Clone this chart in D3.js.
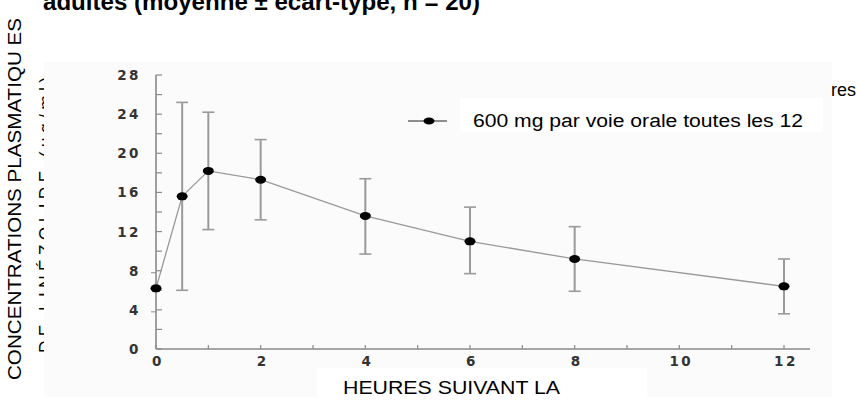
<!DOCTYPE html>
<html><head><meta charset="utf-8">
<script src="https://cdn.jsdelivr.net/npm/d3@7"></script>
<style>body{margin:0;background:#fff}svg{display:block}</style>
</head><body>
<svg id="c" width="857" height="400"></svg>
<script>
const hours = [0, 0.5, 1, 2, 4, 6, 8, 12];
const meanConc = [6.2, 15.6, 18.2, 17.3, 13.6, 11.0, 9.2, 6.4];
const upperSd = [null, 25.2, 24.2, 21.4, 17.4, 14.5, 12.5, 9.2];
const lowerSd = [null, 6.0, 12.2, 13.2, 9.7, 7.7, 5.9, 3.6];
const xTickLabels = [0, 2, 4, 6, 8, 10, 12];
const yTickLabels = [0, 4, 8, 12, 16, 20, 24, 28];
const titleText = "adultes (moyenne ± écart-type, n = 20)";
const yLabel1 = "CONCENTRATIONS PLASMATIQU ES";
const yLabel2 = "DE LINÉZOLIDE (µg/ml)";
const xLabel = "HEURES SUIVANT LA";
const legendText = "600 mg par voie orale toutes les 12";
const legendText2 = "heures";

const svg = d3.select("#c");
const x = d3.scaleLinear().domain([0, 12]).range([156, 784]);
const y = d3.scaleLinear().domain([0, 28]).range([349, 75]);
const sans = "'Liberation Sans', Arial, sans-serif";
const tickFont = "'DejaVu Sans', sans-serif";

// title (cut at top, as in the reference)
svg.append("text").attr("x", 43).attr("y", 10)
  .attr("font-family", sans).attr("font-weight", "bold").attr("font-size", 24)
  .attr("fill", "#000").attr("textLength", 437).attr("lengthAdjust", "spacingAndGlyphs")
  .text(titleText);

// y label lines
svg.append("text").attr("transform", "translate(21,380) rotate(-90)")
  .attr("font-family", sans).attr("font-size", 17.5).attr("fill", "#000")
  .attr("textLength", 362).attr("lengthAdjust", "spacingAndGlyphs").text(yLabel1);
svg.append("text").attr("transform", "translate(52,353) rotate(-90)")
  .attr("font-family", sans).attr("font-size", 17.5).attr("fill", "#000")
  .attr("textLength", 276).attr("lengthAdjust", "spacing").text(yLabel2);
// legend second line
svg.append("text").attr("x", 856).attr("y", 96).attr("text-anchor", "end")
  .attr("font-family", sans).attr("font-size", 18).attr("fill", "#000").text(legendText2);

// image background covering
svg.append("rect").attr("x", 44).attr("y", 62).attr("width", 788).attr("height", 335)
  .attr("fill", "#fbfbfb");

// axes
const axCol = "#8a8a8a";
const g = svg.append("g");
g.append("line").attr("x1", x(0)).attr("x2", x(0)).attr("y1", y(28)).attr("y2", y(0))
  .attr("stroke", axCol).attr("stroke-width", 1.6);
const yMinor = d3.range(0, 29, 2);
g.selectAll(".yt").data(yMinor).enter().append("line")
  .attr("x1", x(0)).attr("x2", x(0) + 6).attr("y1", d => y(d)).attr("y2", d => y(d))
  .attr("stroke", axCol).attr("stroke-width", 1.2);
g.selectAll(".yt2").data([4, 8]).enter().append("line")
  .attr("x1", x(0) - 5).attr("x2", x(0)).attr("y1", d => y(d) + 2).attr("y2", d => y(d) + 2)
  .attr("stroke", axCol).attr("stroke-width", 1);
g.selectAll(".yl").data(yTickLabels).enter().append("text")
  .attr("x", 141).attr("y", d => y(d) + 5).attr("text-anchor", "end")
  .attr("font-family", tickFont).attr("font-weight", "bold").attr("font-size", 13.5)
  .attr("letter-spacing", 2.5).attr("fill", "#333").text(d => d);
g.append("line").attr("x1", x(0)).attr("x2", 810).attr("y1", y(0)).attr("y2", y(0))
  .attr("stroke", axCol).attr("stroke-width", 1.6);
g.selectAll(".xt").data(d3.range(0, 13, 1)).enter().append("line")
  .attr("x1", d => x(d)).attr("x2", d => x(d)).attr("y1", y(0)).attr("y2", y(0) - 4)
  .attr("stroke", axCol).attr("stroke-width", 1.2);
g.selectAll(".xl").data(xTickLabels).enter().append("text")
  .attr("x", d => x(d) + 2).attr("y", 366).attr("text-anchor", "middle")
  .attr("font-family", tickFont).attr("font-weight", "bold").attr("font-size", 13.5)
  .attr("letter-spacing", 2.5).attr("fill", "#333").text(d => d);

// data
const data = hours.map((h, i) => ({h, m: meanConc[i], hi: upperSd[i], lo: lowerSd[i]}));
const barCol = "#9a9a9a";
const eb = data.filter(d => d.hi !== null);
g.selectAll(".eb").data(eb).enter().append("line")
  .attr("x1", d => x(d.h)).attr("x2", d => x(d.h)).attr("y1", d => y(d.hi)).attr("y2", d => y(d.lo))
  .attr("stroke", barCol).attr("stroke-width", 2);
g.selectAll(".ebt").data(eb).enter().append("line")
  .attr("x1", d => x(d.h) - 6).attr("x2", d => x(d.h) + 6).attr("y1", d => y(d.hi)).attr("y2", d => y(d.hi))
  .attr("stroke", barCol).attr("stroke-width", 1.6);
g.selectAll(".ebb").data(eb).enter().append("line")
  .attr("x1", d => x(d.h) - 6).attr("x2", d => x(d.h) + 6).attr("y1", d => y(d.lo)).attr("y2", d => y(d.lo))
  .attr("stroke", barCol).attr("stroke-width", 1.6);
g.append("path").datum(data)
  .attr("d", d3.line().x(d => x(d.h)).y(d => y(d.m)))
  .attr("fill", "none").attr("stroke", "#999").attr("stroke-width", 1.3);
g.selectAll(".pt").data(data).enter().append("ellipse")
  .attr("cx", d => x(d.h)).attr("cy", d => y(d.m)).attr("rx", 5.5).attr("ry", 4)
  .attr("fill", "#000");

// legend
svg.append("rect").attr("x", 460).attr("y", 98).attr("width", 363).attr("height", 34).attr("fill", "#fff");
svg.append("line").attr("x1", 408).attr("x2", 447).attr("y1", 121).attr("y2", 121)
  .attr("stroke", "#222").attr("stroke-width", 1.2);
svg.append("ellipse").attr("cx", 429).attr("cy", 121).attr("rx", 5.5).attr("ry", 3.5).attr("fill", "#000");
svg.append("text").attr("x", 473).attr("y", 127)
  .attr("font-family", sans).attr("font-size", 18).attr("fill", "#000")
  .attr("textLength", 330).attr("lengthAdjust", "spacingAndGlyphs").text(legendText);

// x label
svg.append("rect").attr("x", 317).attr("y", 368).attr("width", 330).attr("height", 32).attr("fill", "#fff");
svg.append("text").attr("x", 343).attr("y", 394)
  .attr("font-family", sans).attr("font-size", 18).attr("fill", "#000")
  .attr("textLength", 217).attr("lengthAdjust", "spacingAndGlyphs").text(xLabel);
</script>
</body></html>
